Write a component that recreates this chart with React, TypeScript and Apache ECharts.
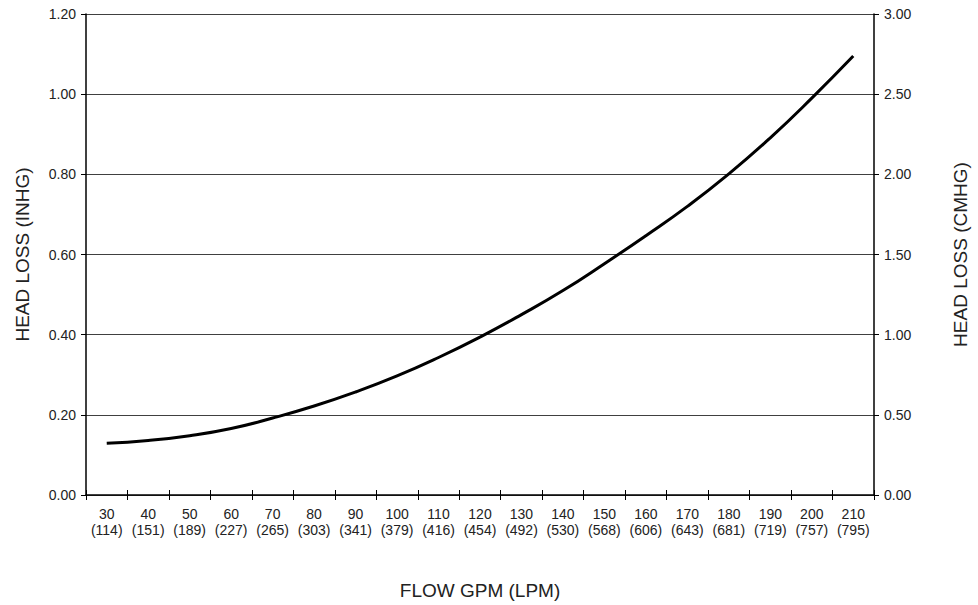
import React, { useEffect, useRef } from "react";
import * as echarts from "echarts";

const flowGpm = ["30", "40", "50", "60", "70", "80", "90", "100", "110", "120", "130", "140", "150", "160", "170", "180", "190", "200", "210"];
const flowLpm = ["114", "151", "189", "227", "265", "303", "341", "379", "416", "454", "492", "530", "568", "606", "643", "681", "719", "757", "795"];
const headLossInHg = [0.129, 0.136, 0.148, 0.166, 0.192, 0.222, 0.257, 0.297, 0.343, 0.394, 0.45, 0.51, 0.577, 0.647, 0.72, 0.801, 0.891, 0.99, 1.095];

const xTitle = "FLOW GPM (LPM)";
const yLeftTitle = "HEAD LOSS (INHG)";
const yRightTitle = "HEAD LOSS (CMHG)";

export default function App() {
  const ref = useRef<HTMLDivElement>(null);
  useEffect(() => {
    if (!ref.current) return;
    const chart = echarts.init(ref.current, undefined, { renderer: "svg" });
    const categories = flowGpm.map((g, i) => `${g}\n(${flowLpm[i]})`);
    const font = "'Liberation Sans', Arial, sans-serif";
    const labelColor = "#222";
    chart.setOption({
      animation: false,
      backgroundColor: "#fff",
      textStyle: { fontFamily: font },
      grid: { left: 86, right: 96, top: 14, bottom: 109, containLabel: false },
      xAxis: [
        {
          type: "category",
          position: "bottom",
          data: categories,
          boundaryGap: true,
          name: xTitle,
          nameLocation: "middle",
          nameGap: 86,
          nameTextStyle: { fontSize: 19, color: "#222", fontFamily: font },
          axisLine: { show: true, lineStyle: { color: "#000", width: 1.5 } },
          axisTick: { show: true, inside: false, length: 5, alignWithLabel: false, lineStyle: { color: "#000", width: 1 } },
          axisLabel: { interval: 0, fontSize: 14, lineHeight: 16, color: labelColor, margin: 11, fontFamily: font },
          splitLine: { show: false },
        },
        {
          type: "category",
          position: "bottom",
          data: categories,
          boundaryGap: true,
          axisLine: { show: false },
          axisTick: { show: true, inside: true, length: 5, lineStyle: { color: "#000", width: 1 } },
          axisLabel: { show: false },
          splitLine: { show: false },
        },
      ],
      yAxis: [
        {
          type: "value",
          position: "left",
          min: 0,
          max: 1.2,
          interval: 0.2,
          name: yLeftTitle,
          nameLocation: "middle",
          nameRotate: 90,
          nameGap: 54,
          nameTextStyle: { fontSize: 19, color: "#222", fontFamily: font },
          axisLine: { show: true, lineStyle: { color: "#000", width: 1.5 } },
          axisTick: { show: true, length: 5, lineStyle: { color: "#000", width: 1 } },
          axisLabel: { fontSize: 14, color: labelColor, margin: 10, formatter: (v: number) => v.toFixed(2), fontFamily: font },
          splitLine: { show: true, lineStyle: { color: "#404040", width: 1 } },
        },
        {
          type: "value",
          position: "right",
          min: 0,
          max: 3,
          interval: 0.5,
          name: yRightTitle,
          nameLocation: "middle",
          nameRotate: 90,
          nameGap: 77,
          nameTextStyle: { fontSize: 19, color: "#222", fontFamily: font },
          axisLine: { show: true, lineStyle: { color: "#000", width: 1.5 } },
          axisTick: { show: true, length: 5, lineStyle: { color: "#000", width: 1 } },
          axisLabel: { fontSize: 14, color: labelColor, margin: 10, formatter: (v: number) => v.toFixed(2), fontFamily: font },
          splitLine: { show: false },
        },
      ],
      series: [
        {
          type: "line",
          xAxisIndex: 0,
          yAxisIndex: 0,
          data: headLossInHg,
          smooth: true,
          showSymbol: false,
          symbol: "none",
          lineStyle: { color: "#000", width: 3 },
        },
      ],
    });
    return () => chart.dispose();
  }, []);
  return <div ref={ref} style={{ position: "fixed", left: 0, top: 0, width: 978, height: 605 }} />;
}
